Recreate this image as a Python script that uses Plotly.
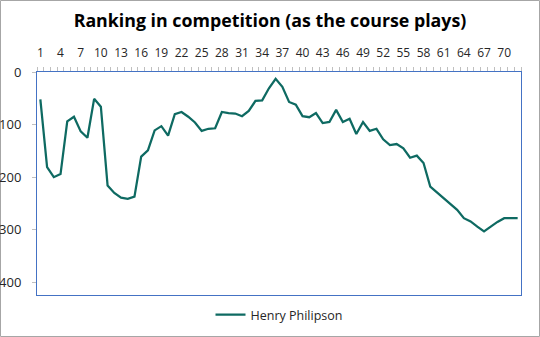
import plotly.graph_objects as go

# Round-by-round ranking of the player over the course
rounds = list(range(1, 73))
ranking = [
    52, 181, 200, 194, 94, 85, 113, 125, 51, 66,
    216, 230, 239, 241, 237, 161, 149, 111, 103, 121,
    80, 76, 85, 96, 112, 108, 107, 76, 78, 79,
    84, 74, 55, 54, 31, 13, 28, 57, 62, 84,
    86, 78, 97, 95, 72, 95, 89, 118, 95, 112,
    108, 128, 139, 137, 145, 163, 159, 173, 218, 229,
    240, 251, 262, 278, 284, 294, 303, 294, 285, 278,
    278, 278,
]
series_name = "Henry Philipson"
title_text = "Ranking in competition (as the course plays)"
x_labels = [str(r) for r in rounds[::3]]
y_ticks = [0, 100, 200, 300, 400]

W, H = 540, 337
ML, MR, MT, MB = 37, 19, 72, 42
PW, PH = W - ML - MR, H - MT - MB

BLUE = "#4472C4"
TEAL = "#0E6A62"
GRAY = "#A6A6A6"
FONT = "Open Sans, Noto Sans, sans-serif"

fig = go.Figure()
fig.add_trace(go.Scatter(
    x=rounds, y=ranking, mode="lines", name=series_name,
    line=dict(color=TEAL, width=2.25),
))

fig.update_layout(
    width=W, height=H,
    margin=dict(l=ML, r=MR, t=MT, b=MB, autoexpand=False),
    paper_bgcolor="white", plot_bgcolor="white",
    font=dict(family=FONT, color="#262626", size=12),
    title=dict(text=f"<b>{title_text}</b>", x=0.5, xanchor="center",
               y=1 - 21 / H, yanchor="middle",
               font=dict(size=17.8, color="#000000", family=FONT)),
    showlegend=True,
    legend=dict(orientation="h", x=0.5, xanchor="center",
                y=-(315 - (MT + PH)) / PH, yanchor="middle",
                font=dict(size=12.5, color="#262626"), itemwidth=30),
    shapes=[dict(type="rect", xref="paper", yref="paper",
                 x0=-(ML - 0.5) / PW, x1=1 + (MR - 0.5) / PW,
                 y0=-(MB - 0.5) / PH, y1=1 + (MT - 0.5) / PH,
                 line=dict(color=GRAY, width=1), layer="below")],
)

fig.update_xaxes(
    side="top", range=[0.5, len(rounds) + 0.5], automargin=False,
    tickmode="array", tickvals=rounds[::3], ticktext=x_labels,
    ticks="", ticklabelstandoff=9,
    tickfont=dict(size=12, color="#262626"),
    minor=dict(ticks="outside", tick0=0.5, dtick=1, ticklen=4,
               tickcolor="#BFBFBF", tickwidth=1),
    showgrid=False, zeroline=False,
    showline=True, linecolor=BLUE, linewidth=1, mirror=True,
)
fig.update_yaxes(
    range=[424, 0], tickmode="array", tickvals=y_ticks, automargin=False,
    ticks="outside", ticklen=4, tickcolor="#BFBFBF",
    ticklabelstandoff=8,
    tickfont=dict(size=13, color="#262626"),
    showgrid=False, zeroline=False,
    showline=True, linecolor=BLUE, linewidth=1, mirror=True,
)

fig.write_html("out.html")
